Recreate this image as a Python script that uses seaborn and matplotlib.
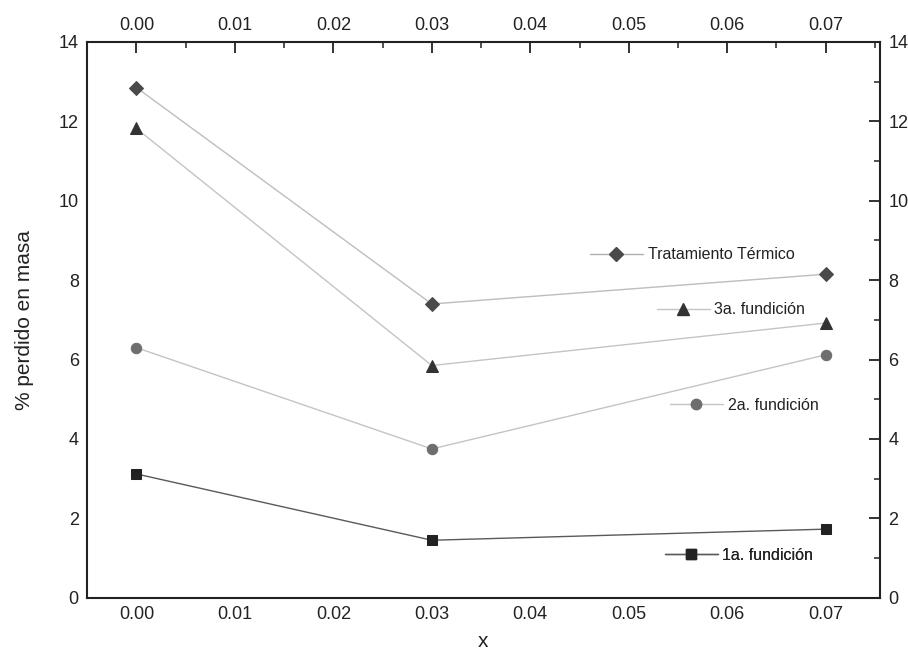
import numpy as np
import pandas as pd
import matplotlib
matplotlib.use("Agg")
import matplotlib.pyplot as plt
from matplotlib.lines import Line2D
from matplotlib.ticker import MultipleLocator
import seaborn as sns

# ---- data ----
x_vals = [0.00, 0.03, 0.07]
tratamiento = [12.85, 7.40, 8.15]
fundicion3 = [11.82, 5.85, 6.92]
fundicion2 = [6.30, 3.75, 6.12]
fundicion1 = [3.12, 1.45, 1.73]
series_names = ["Tratamiento Térmico", "3a. fundición", "2a. fundición", "1a. fundición"]
x_ticks = [0.00, 0.01, 0.02, 0.03, 0.04, 0.05, 0.06, 0.07]
y_ticks = [0, 2, 4, 6, 8, 10, 12, 14]

sns.set_style("white")
plt.rcParams['font.family'] = ['Liberation Sans', 'DejaVu Sans']

fig = plt.figure(figsize=(9.08, 6.65), dpi=100)
ax = fig.add_axes([0.096, 0.101, 0.873, 0.836])

styles = [
    (tratamiento, 'D', 7.5, '#4a4a4a', '#bdbdbd'),
    (fundicion3, '^', 8.5, '#333333', '#c4c4c4'),
    (fundicion2, 'o', 7.5, '#6e6e6e', '#c4c4c4'),
    (fundicion1, 's', 7.0, '#222222', '#5a5a5a'),
]

for (vals, mk, ms, mc, lc), name in zip(styles, series_names):
    df = pd.DataFrame({"x": x_vals, "y": vals})
    sns.lineplot(data=df, x="x", y="y", ax=ax, color=lc, linewidth=1.0,
                 marker=mk, markersize=ms, markerfacecolor=mc,
                 markeredgecolor=mc, legend=False)

ax.set_xlim(-0.005, 0.0755)
ax.set_ylim(0, 14)
ax.set_xticks(x_ticks)
ax.set_xticklabels([f"{v:.2f}" for v in x_ticks])
ax.set_yticks(y_ticks)
ax.xaxis.set_minor_locator(MultipleLocator(0.005))
ax.yaxis.set_minor_locator(MultipleLocator(1))
ax.tick_params(which='both', direction='in', top=True, right=True,
               labeltop=True, labelright=True, colors='#222222',
               labelsize=13)
ax.tick_params(which='major', length=8, width=1.3, pad=6)
ax.tick_params(which='minor', length=4, width=1.1)
for sp in ax.spines.values():
    sp.set_color('#222222')
    sp.set_linewidth(1.5)

ax.set_xlabel("x", fontsize=15, color='#222222', labelpad=6)
ax.set_ylabel("% perdido en masa", fontsize=15, color='#222222', labelpad=18)

# scattered legend entries
leg_pos = [(590, 255), (657, 310), (670, 405), (665, 555)]
for (vals, mk, ms, mc, lc), name, (px, py) in zip(styles, series_names, leg_pos):
    h = Line2D([], [], color=lc if lc != '#bdbdbd' else '#b0b0b0', linewidth=1.0,
               marker=mk, markersize=ms, markerfacecolor=mc, markeredgecolor=mc)
    leg = ax.legend([h], [name], loc='center left',
                    bbox_to_anchor=(px / 908, 1 - py / 665),
                    bbox_transform=fig.transFigure, frameon=False,
                    borderpad=0, borderaxespad=0, handletextpad=0.3,
                    handlelength=3.3, numpoints=1, fontsize=11.5,
                    labelcolor='#222222')
    ax.add_artist(leg)

fig.savefig("out.png", dpi=100)
